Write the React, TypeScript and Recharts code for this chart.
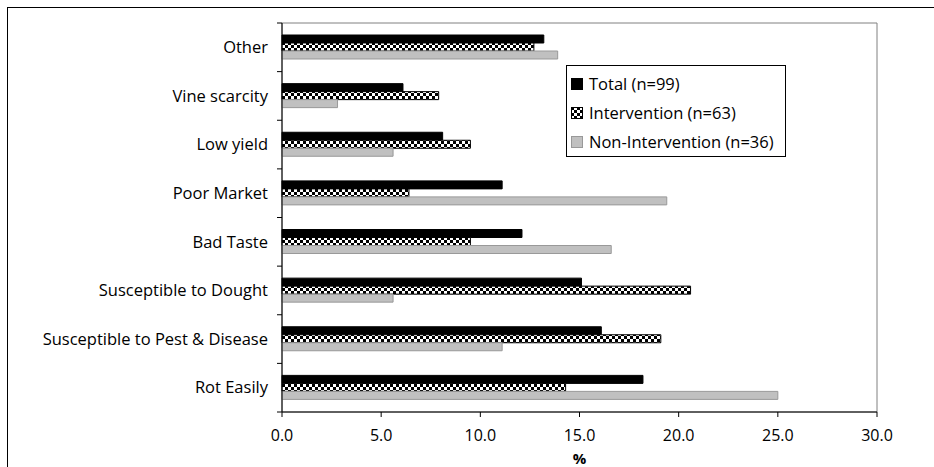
import { BarChart, Bar, XAxis, YAxis, Legend, ReferenceArea } from 'recharts'

const categories = [
  'Other',
  'Vine scarcity',
  'Low yield',
  'Poor Market',
  'Bad Taste',
  'Susceptible to Dought',
  'Susceptible to Pest & Disease',
  'Rot Easily',
]
const total = [13.2, 6.1, 8.1, 11.1, 12.1, 15.1, 16.1, 18.2]
const intervention = [12.7, 7.9, 9.5, 6.4, 9.5, 20.6, 19.1, 14.3]
const nonIntervention = [13.9, 2.8, 5.6, 19.4, 16.6, 5.6, 11.1, 25.0]
const xTicks = [0, 5, 10, 15, 20, 25, 30]

const data = categories.map((name, i) => ({
  name,
  total: total[i],
  intervention: intervention[i],
  nonIntervention: nonIntervention[i],
}))

const FONT = '"Open Sans", sans-serif'

function CategoryTick(props: any) {
  const { x, y, payload, index } = props
  const band = 389 / categories.length
  const ax = x + 9
  return (
    <g>
      <line x1={ax - 5} x2={ax} y1={y - band / 2} y2={y - band / 2} stroke="#000" />
      {index === categories.length - 1 && (
        <line x1={ax - 5} x2={ax} y1={y + band / 2} y2={y + band / 2} stroke="#000" />
      )}
      <text x={x - 5} y={y} dy="0.35em" textAnchor="end" fontSize={16.5} fill="#000" fontFamily={FONT}>
        {payload.value}
      </text>
    </g>
  )
}

function LegendBox() {
  const items = [
    { label: 'Total (n=99)', fill: '#000', stroke: '#000' },
    { label: 'Intervention (n=63)', fill: 'url(#checker)', stroke: '#000' },
    { label: 'Non-Intervention (n=36)', fill: '#c0c0c0', stroke: '#999' },
  ]
  return (
    <div
      style={{
        width: 220,
        height: 92,
        border: '1px solid #000',
        background: '#fff',
        fontFamily: FONT,
        fontSize: 16.5,
        paddingTop: 3,
        boxSizing: 'border-box',
      }}
    >
      {items.map((it) => (
        <div key={it.label} style={{ display: 'flex', alignItems: 'center', height: 29, paddingLeft: 4, whiteSpace: 'nowrap' }}>
          <svg width={12} height={12} style={{ marginRight: 6, flex: 'none' }}>
            <rect x={0.5} y={0.5} width={11} height={11} fill={it.fill} stroke={it.stroke} />
          </svg>
          <span>{it.label}</span>
        </div>
      ))}
    </div>
  )
}

export default function App() {
  return (
    <div style={{ position: 'absolute', left: 0, top: 0, width: 934, height: 467, background: '#fff', overflow: 'hidden' }}>
      <div
        style={{
          position: 'absolute',
          left: 7,
          top: 7,
          width: 940,
          height: 480,
          borderTop: '1px solid #000',
          borderLeft: '1px solid #000',
        }}
      />
      <div style={{ position: 'absolute', left: 0, top: 0 }}>
        <BarChart
          width={934}
          height={467}
          data={data}
          layout="vertical"
          margin={{ top: 23, right: 57, left: 0, bottom: 0 }}
          barSize={8}
          barGap={0}
        >
          <defs>
            <pattern id="checker" width={6} height={6} patternUnits="userSpaceOnUse">
              <rect width={6} height={6} fill="#fff" />
              <rect x={0} y={0} width={3} height={3} fill="#000" />
              <rect x={3} y={3} width={3} height={3} fill="#000" />
            </pattern>
          </defs>
          <ReferenceArea x1={0} x2={30} fill="none" stroke="#808080" strokeOpacity={1} fillOpacity={0} ifOverflow="visible" />
          <XAxis
            type="number"
            domain={[0, 30]}
            ticks={xTicks}
            tickFormatter={(v) => v.toFixed(1)}
            tick={{ fontSize: 16, fill: '#000', fontFamily: FONT }}
            tickSize={5}
            tickMargin={13}
            axisLine={{ stroke: '#000' }}
            tickLine={{ stroke: '#000' }}
            height={55}
            label={{ value: '%', position: 'insideBottom', offset: 3, fontSize: 15, fontWeight: 'bold', fill: '#000', fontFamily: FONT }}
          />
          <YAxis
            type="category"
            dataKey="name"
            width={282}
            tick={<CategoryTick />}
            tickLine={false}
            axisLine={{ stroke: '#000' }}
            tickSize={0}
            tickMargin={9}
            interval={0}
          />
          <Legend
            layout="vertical"
            align="center"
            verticalAlign="middle"
            content={<LegendBox />}
            wrapperStyle={{ position: 'absolute', left: 566, top: 65, width: 220 }}
          />
          <Bar dataKey="total" name="Total (n=99)" fill="#000" stroke="#000" isAnimationActive={false} />
          <Bar dataKey="intervention" name="Intervention (n=63)" fill="url(#checker)" stroke="#000" isAnimationActive={false} />
          <Bar dataKey="nonIntervention" name="Non-Intervention (n=36)" fill="#c0c0c0" stroke="#999" isAnimationActive={false} />
        </BarChart>
      </div>
    </div>
  )
}
